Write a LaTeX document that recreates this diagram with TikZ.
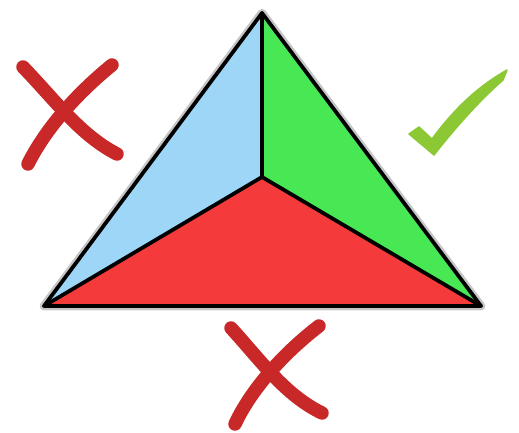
\documentclass[tikz,border=0pt]{standalone}
\usepackage{xcolor}
\usepackage{tikz}
\definecolor{faceblue}{RGB}{158,214,248}
\definecolor{facegreen}{RGB}{72,232,84}
\definecolor{facered}{RGB}{244,58,58}
\definecolor{crossred}{RGB}{200,40,40}
\definecolor{ticklime}{RGB}{140,200,52}
\tikzset{
	face/.style={draw=none},
	edge/.style={draw=black, line width=0.075cm, line join=round, line cap=round},
	halo/.style={draw=gray!45, line width=0.17cm, line join=round, line cap=round},
	cross/.style={draw=crossred, line width=0.27cm, line cap=round},
	tick/.style={fill=ticklime, draw=ticklime, line width=0.03cm, line join=round},
}
\begin{document}
\begin{tikzpicture}[x=0.02cm, y=-0.02cm]
	\useasboundingbox (0,0) rectangle (519,432);
	\coordinate (apex) at (262,13);
	\coordinate (bl) at (44,306);
	\coordinate (br) at (481,306);
	\coordinate (mid) at (262,177);
	% grey rim, then the three faces
	\draw[halo] (apex) -- (bl) -- (br) -- cycle;
	\fill[faceblue] (apex) -- (bl) -- (mid) -- cycle;
	\fill[facegreen] (apex) -- (mid) -- (br) -- cycle;
	\fill[facered] (bl) -- (br) -- (mid) -- cycle;
	\draw[edge] (apex) -- (bl) -- (br) -- cycle;
	\draw[edge] (apex) -- (mid) (bl) -- (mid) -- (br);
	% marks
	\coordinate (xa1) at (23,67);
	\coordinate (xa2) at (117,154);
	\coordinate (xb1) at (112,65);
	\coordinate (xb2) at (28,164);
	\draw[cross] (xa1) .. controls (55,100) and (80,135) .. (xa2);
	\draw[cross] (xb1) .. controls (75,95) and (45,130) .. (xb2);
	\coordinate (ya1) at (231,328);
	\coordinate (ya2) at (322,413);
	\coordinate (yb1) at (319,326);
	\coordinate (yb2) at (235,424);
	\draw[cross] (ya1) .. controls (262,362) and (285,395) .. (ya2);
	\draw[cross] (yb1) .. controls (280,356) and (250,392) .. (yb2);
	\coordinate (t1) at (409,134);
	\coordinate (t2) at (434,155);
	\coordinate (t3) at (507,70);
	\path[tick] (t1) -- (419,127) -- (432,139) .. controls (452,112) and (475,88) .. (t3)
		-- (503,80) .. controls (480,100) and (455,128) .. (t2) -- cycle;
\end{tikzpicture}
\end{document}
